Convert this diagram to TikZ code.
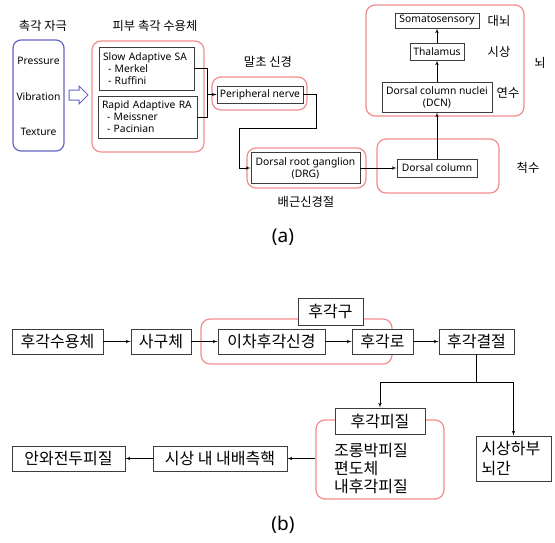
\documentclass[tikz,border=0pt]{standalone}
\usepackage{fontspec}
\setmainfont{Noto Sans}
\newfontfamily\kr{Noto Sans CJK KR}
\usepackage{tikz}
\usetikzlibrary{arrows}
\definecolor{grpred}{RGB}{242,140,140}
\definecolor{stimblue}{RGB}{100,100,200}
\definecolor{boxgray}{RGB}{60,60,60}
\tikzstyle{line} = [draw, -{latex'}, line width=0.6pt]
\tikzstyle{wire} = [draw, line width=0.6pt]
\tikzstyle{blk} = [draw=boxgray, line width=0.9pt, inner sep=0pt, fill=white]
\tikzstyle{grp} = [draw=grpred, line width=1.2pt, rounded corners=9pt, inner sep=0pt]
\tikzstyle{en} = [font=\fontsize{10.3}{12}\selectfont]
\tikzstyle{ko} = [font=\kr\fontsize{12.3}{14}\selectfont]
\tikzstyle{kob} = [font=\kr\fontsize{16}{18}\selectfont]
\tikzstyle{captext} = [font=\fontsize{19}{22}\selectfont]

\begin{document}
\begin{tikzpicture}[x=1pt,y=-1pt]
	\useasboundingbox (0,0) rectangle (555,542);
	% -------------- (a) stimulus --------------
	\node[ko] (tstim) at (43,26) {촉각 자극};
	\node[draw=stimblue, line width=1.2pt, rounded corners=8pt, minimum width=51, minimum height=111] (stim) at (38.5,95.5) {};
	\node[en] (press) at (38.5,61) {Pressure};
	\node[en] (vibr)  at (38.5,97) {Vibration};
	\node[en] (text)  at (38.5,132) {Texture};
	\draw[stimblue, line width=1pt] (69,90) -- (79,90) -- (79,86) -- (88,95) -- (79,104) -- (79,100) -- (69,100) -- cycle;
	% -------------- (a) receptors --------------
	\node[ko] (trec) at (155,26) {피부 촉각 수용체};
	\node[grp, minimum width=112, minimum height=111] (recg) at (148,96.5) {};
	\node[blk, en, minimum width=95, minimum height=43, text width=87, align=left] (sa) at (146.5,68.5)
		{Slow Adaptive SA\\\hspace*{5pt}- Merkel\\\hspace*{5pt}- Ruffini};
	\node[blk, en, minimum width=99, minimum height=42, text width=91, align=left] (ra) at (147.5,117)
		{Rapid Adaptive RA\\\hspace*{5pt}- Meissner\\\hspace*{5pt}- Pacinian};
	% -------------- (a) peripheral nerve --------------
	\node[ko] (tpn) at (268,62) {말초 신경};
	\node[grp, minimum width=95, minimum height=33] (png) at (259.5,93.5) {};
	\node[blk, en, minimum width=86, minimum height=17] (pn) at (260,94.5) {Peripheral nerve};
	\coordinate (j1) at (207,94.5);
	\draw[wire] (sa.east) -| (j1);
	\draw[wire] (ra.east) -| (j1);
	\draw[line] (j1) -- (pn.west);
	% -------------- (a) DRG --------------
	\node[grp, minimum width=119, minimum height=40] (drgg) at (306.5,168) {};
	\node[blk, en, minimum width=109, minimum height=31, align=center] (drg) at (305.5,168)
		{Dorsal root ganglion\\(DRG)};
	\node[ko] (tdrg) at (306,202) {배근신경절};
	\coordinate (b1) at (316,128);
	\coordinate (b2) at (239,128);
	\draw[line] (pn.east) -| (b1) -- (b2) |- (drg.west);
	% -------------- (a) spinal cord --------------
	\node[grp, minimum width=122, minimum height=54] (dcg) at (438,166) {};
	\node[blk, en, minimum width=80, minimum height=18] (dc) at (437,168) {Dorsal column};
	\node[ko] (tdc) at (528,168) {척수};
	\draw[line] (drg.east) -- (dc.west);
	% -------------- (a) brain --------------
	\node[grp, minimum width=158, minimum height=111] (brg) at (445,60.5) {};
	\node[blk, en, minimum width=110, minimum height=30, align=center] (dcn) at (437,97)
		{Dorsal column nuclei\\(DCN)};
	\node[blk, en, minimum width=54, minimum height=17] (thal) at (437,51.5) {Thalamus};
	\node[blk, en, minimum width=84, minimum height=15] (soma) at (437,20.5) {Somatosensory};
	\node[ko] (tsoma) at (499,21) {대뇌};
	\node[ko] (tthal) at (499,52) {시상};
	\node[ko] (tdcn) at (508,93) {연수};
	\node[ko] (tbr) at (540,63) {뇌};
	\draw[line] (dc.north) -- (dcn.south);
	\draw[line] (dcn.north) -- (thal.south);
	\draw[line] (thal.north) -- (soma.south);
	\node[captext] (capa) at (283,237) {(a)};
	% -------------- (b) olfactory path --------------
	\node[grp, minimum width=191, minimum height=45] (olfg) at (296.5,341.5) {};
	\node[blk, kob, minimum width=91, minimum height=25] (r1) at (57.5,341.5) {후각수용체};
	\node[blk, kob, minimum width=60, minimum height=25] (r2) at (161,341.5) {사구체};
	\node[blk, kob, minimum width=107, minimum height=25] (r3) at (271.5,341.5) {이차후각신경};
	\node[blk, kob, minimum width=61, minimum height=25] (r4) at (382.5,341.5) {후각로};
	\node[blk, kob, minimum width=75, minimum height=25] (r5) at (476.5,341.5) {후각결절};
	\node[blk, kob, minimum width=65, minimum height=27] (bulb) at (330.5,311.5) {후각구};
	\draw[line] (r1.east) -- (r2.west);
	\draw[line] (r2.east) -- (r3.west);
	\draw[line] (r3.east) -- (r4.west);
	\draw[line] (r4.east) -- (r5.west);
	% -------------- (b) cortex --------------
	\node[grp, minimum width=128, minimum height=79] (cg) at (380,459.5) {};
	\node[blk, kob, minimum width=90, minimum height=26] (ctx) at (380,421) {후각피질};
	\node[kob, anchor=west, align=left, inner sep=0pt] (clist) at (334,469) {조롱박피질\\편도체\\내후각피질};
	\node[blk, kob, minimum width=75, minimum height=45, text width=64, align=left] (hypo) at (513.5,458.5)
		{시상하부\\[2pt]뇌간};
	\node[blk, kob, minimum width=134, minimum height=25] (mdt) at (220,458.5) {시상 내 내배측핵};
	\node[blk, kob, minimum width=113, minimum height=25] (ofc) at (68.5,458.5) {안와전두피질};
	\coordinate (k1) at (476.5,382);
	\draw[wire] (r5.south) -- (k1);
	\draw[line] (k1) -| (ctx.north);
	\draw[line] (k1) -| (hypo.north);
	\draw[line] (cg.west |- mdt.east) -- (mdt.east);
	\draw[line] (mdt.west) -- (ofc.east);
	\node[captext] (capb) at (283,525) {(b)};
\end{tikzpicture}
\end{document}
